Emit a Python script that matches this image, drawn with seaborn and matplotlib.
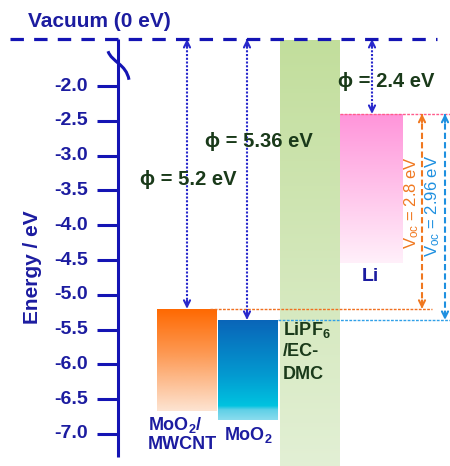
import numpy as np
import matplotlib
matplotlib.use('Agg')
import matplotlib.pyplot as plt
import seaborn as sns
from matplotlib.colors import LinearSegmentedColormap
from matplotlib.path import Path
from matplotlib.patches import PathPatch

# energy levels (eV, vacuum = 0)
electrodes = ['MoO$_\\mathbf{2}$/\nMWCNT', 'MoO$_\\mathbf{2}$', 'Li']
work_functions = [5.2, 5.36, 2.4]
band_bottoms = [-6.67, -6.80, -4.55]
voc_values = [2.8, 2.96]
tick_values = [-2.0, -2.5, -3.0, -3.5, -4.0, -4.5, -5.0, -5.5, -6.0, -6.5, -7.0]

VAC_POS = -1.325   # where the vacuum level sits on the broken axis
AXIS_X = 118
AXIS_BLUE = '#1414b4'
TEXT_BLUE = '#1c1ca0'
DOT_BLUE = '#2828cc'
PHI_GREEN = '#1a3a1a'

sns.set_style('white')
plt.rcParams['font.family'] = ['Liberation Sans', 'DejaVu Sans']
plt.rcParams['axes.unicode_minus'] = False
plt.rcParams['image.composite_image'] = False
plt.rcParams['mathtext.fontset'] = 'custom'
plt.rcParams['mathtext.rm'] = 'Liberation Sans'
plt.rcParams['mathtext.bf'] = 'Liberation Sans:bold'
plt.rcParams['mathtext.it'] = 'Liberation Sans:italic'


def gradient_bar(ax, left, width, top, bottom, stops):
    bar = ax.bar(left, top - bottom, width=width, bottom=bottom, align='edge',
                 color=stops[-1][1], linewidth=0, zorder=1)[0]
    cmap = LinearSegmentedColormap.from_list('grad', stops)
    grad = np.linspace(0, 1, 256).reshape(-1, 1)
    im = ax.imshow(grad, cmap=cmap, extent=(left, left + width, bottom, top),
                   origin='upper', aspect='auto', zorder=1.1, interpolation='bilinear')
    im.set_clip_path(bar)
    return bar


def double_arrow(ax, x, y_top, y_bot, color, ls, lw=1.5):
    ax.plot([x, x], [y_top, y_bot], ls=ls, color=color, lw=lw, zorder=4)
    for tip, tail in ((y_top, y_top - 0.12), (y_bot, y_bot + 0.12)):
        ax.annotate('', xy=(x, tip), xytext=(x, tail),
                    arrowprops=dict(arrowstyle='->', color=color, lw=lw,
                                    shrinkA=0, shrinkB=0, mutation_scale=11),
                    zorder=4)


fig = plt.figure(figsize=(4.5, 4.66), dpi=100)
ax = fig.add_axes([0, 0, 1, 1])

# bars
bar_left = [157, 218, 340]
bar_width = [60, 60, 63]
bar_stops = [
    [(0, '#ff6800'), (0.45, '#fd9a55'), (1, '#fde4d2')],
    [(0, '#0a64b8'), (0.55, '#0399d0'), (0.86, '#00c3e0'), (0.9, '#5fd0e7'), (1, '#8adcee')],
    [(0, '#ff94da'), (1, '#fff0fa')],
]
for left, w, wf, bot, stops in zip(bar_left, bar_width, work_functions, band_bottoms, bar_stops):
    gradient_bar(ax, left, w, -wf, bot, stops)

# electrolyte window
gradient_bar(ax, 280, 60, VAC_POS - 0.02, -7.6,
             [(0, '#c2de9c'), (1, '#e3f0d6')])

ax.set_xlim(0, 450)
ax.set_ylim(-7.46, -0.764)

# vacuum level
ax.plot([10, 437], [VAC_POS, VAC_POS], color=AXIS_BLUE, lw=2.3,
        ls=(0, (4.2, 3.2)), zorder=5)

# level guide lines
ax.plot([340, 450], [-work_functions[2]] * 2, color='#ff5c8c', lw=1.0, ls=(0, (2, 1)), zorder=3)
ax.plot([210, 432], [-work_functions[0]] * 2, color='#f07020', lw=1.0, ls=(0, (2, 1)), zorder=3)
ax.plot([278, 450], [-work_functions[1]] * 2, color='#30a0e8', lw=1.0, ls=(0, (2, 1)), zorder=3)

# work function arrows
for x, wf in zip([187, 247, 372], work_functions):
    double_arrow(ax, x, VAC_POS, -wf, DOT_BLUE, (0, (1, 0.8)))

# open circuit voltage arrows
double_arrow(ax, 422, -work_functions[2], -work_functions[2] - voc_values[0], '#f07820', (0, (3, 1.5)))
double_arrow(ax, 445, -work_functions[2], -work_functions[2] - voc_values[1], '#1e90e0', (0, (3, 1.5)))

# y axis drawn on the energy scale
ax.spines[['top', 'right', 'bottom', 'left']].set_visible(False)
ax.set_xticks([])
ax.set_yticks([])
ax.plot([AXIS_X, AXIS_X], [-7.33, VAC_POS], color=AXIS_BLUE, lw=2.2,
        solid_capstyle='butt', zorder=6)
for v in tick_values:
    ax.plot([AXIS_X - 21, AXIS_X], [v, v], color=AXIS_BLUE, lw=2.2,
            solid_capstyle='butt', zorder=6)
    ax.text(AXIS_X - 30, v, '%.1f' % v, fontsize=14, fontweight='bold', color=TEXT_BLUE,
            ha='right', va='center')
ax.text(33, -4.6, 'Energy / eV', fontsize=15, fontweight='bold', color=TEXT_BLUE,
        rotation=90, ha='center', va='center')

# axis break mark
brk = Path([(108, -1.50), (112, -1.66), (126, -1.68), (129, -1.91)],
           [Path.MOVETO, Path.CURVE4, Path.CURVE4, Path.CURVE4])
ax.add_patch(PathPatch(brk, fill=False, edgecolor=AXIS_BLUE, lw=2.2, zorder=6))

# labels
ax.text(28, -1.08, 'Vacuum (0 eV)', fontsize=15, fontweight='bold', color=TEXT_BLUE,
        ha='left', va='center')
phi_pos = [(140, -3.35), (205, -2.80), (338, -1.94)]
for (x, y), wf in zip(phi_pos, work_functions):
    ax.text(x, y, '\u03d5 = {:g} eV'.format(wf), fontsize=14.5, fontweight='bold',
            color=PHI_GREEN, ha='left', va='center', zorder=7)

ax.text(283, -5.51, 'LiPF$_\\mathbf{6}$', fontsize=13, fontweight='bold', color=PHI_GREEN,
        ha='left', va='center', zorder=7)
ax.text(283, -5.82, '/EC-', fontsize=13, fontweight='bold', color=PHI_GREEN,
        ha='left', va='center', zorder=7)
ax.text(283, -6.14, 'DMC', fontsize=13, fontweight='bold', color=PHI_GREEN,
        ha='left', va='center', zorder=7)

ax.text(148, -7.0, electrodes[0], fontsize=13, fontweight='bold', color=TEXT_BLUE,
        ha='left', va='center', linespacing=1.1)
ax.text(224, -7.02, electrodes[1], fontsize=13, fontweight='bold', color=TEXT_BLUE,
        ha='left', va='center')
ax.text(362, -4.74, electrodes[2], fontsize=14, fontweight='bold', color=TEXT_BLUE,
        ha='left', va='center')

voc_colors = ['#f07820', '#1e90e0']
voc_pos = [(412, -3.67), (433, -3.72)]
for (x, y), v, c in zip(voc_pos, voc_values, voc_colors):
    ax.text(x, y, 'V$_\\mathregular{oc}$ = ' + '{:g} eV'.format(v), fontsize=12,
            color=c, rotation=90, ha='center', va='center', zorder=7)

fig.savefig('out.png', dpi=100, facecolor='white')
